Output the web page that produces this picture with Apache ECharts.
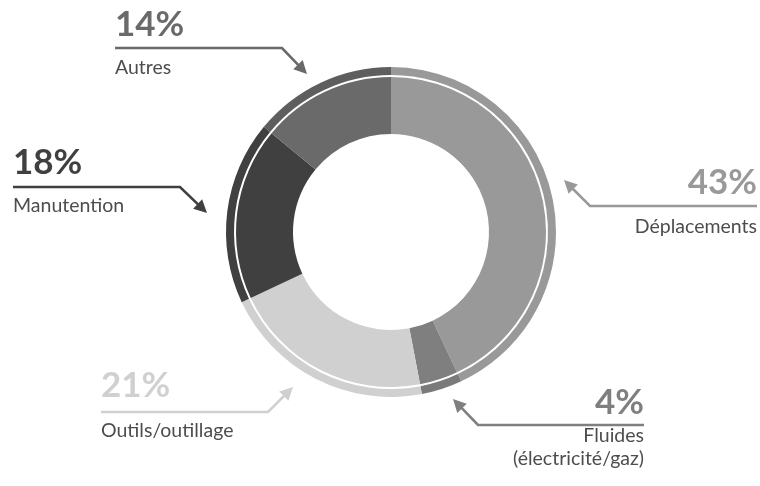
<!DOCTYPE html>
<html>
<head>
<meta charset="utf-8">
<script src="https://cdn.jsdelivr.net/npm/echarts@6/dist/echarts.min.js"></script>
<style>
html,body{margin:0;padding:0;background:#fff;}
#c{width:760px;height:486px;}
</style>
</head>
<body>
<div id="c"></div>
<script>
// ---- data ----
var categories = ['Déplacements', 'Fluides\n(électricité/gaz)', 'Outils/outillage', 'Manutention', 'Autres'];
var shares = [43, 4, 21, 18, 14];
var colors = ['#999999', '#7f7f7f', '#d0d0d0', '#404040', '#6a6a6a'];
var ringColors = ['#999999', '#7a7a7a', '#d0d0d0', '#404040', '#5e5e5e'];

// ---- annotation layout (per category, same order) ----
var layout = [
  {align: 'right', tx: 757, py: 183, ly: 227, path: [[757,206],[590,206],[564,180]]},
  {align: 'right', tx: 644, py: 403, ly: 447, path: [[644,425],[478,425],[453,399]]},
  {align: 'left',  tx: 101, py: 386, ly: 431, path: [[101,412],[268,412],[293,387]]},
  {align: 'left',  tx: 13,  py: 163, ly: 206, path: [[13,187],[180,187],[207,213]]},
  {align: 'left',  tx: 115, py: 25,  ly: 68,  path: [[115,48],[282,48],[307,74]]}
];

var chart = echarts.init(document.getElementById('c'), null, {renderer: 'canvas'});

var graphics = [];
var FONT = 'Lato, "Open Sans", sans-serif';
for (var i = 0; i < categories.length; i++) {
  var L = layout[i];
  var col = colors[i];
  graphics.push({
    type: 'text',
    x: L.tx, y: L.py,
    style: {text: shares[i] + '%', fill: col, font: 'bold 35px ' + FONT, align: L.align, verticalAlign: 'middle'}
  });
  graphics.push({
    type: 'text',
    x: L.tx, y: L.ly,
    style: {text: categories[i], fill: '#4d4d4d', font: '19.5px ' + FONT, align: L.align, verticalAlign: 'middle', lineHeight: 23}
  });
  var p = L.path;
  var a = p[1], t = p[2];
  var dx = t[0] - a[0], dy = t[1] - a[1];
  var len = Math.sqrt(dx*dx + dy*dy);
  var ux = dx/len, uy = dy/len;
  var head = 13, half = 6.5;
  var bx = t[0] - ux*head, by = t[1] - uy*head;
  graphics.push({
    type: 'polyline',
    shape: {points: [p[0], p[1], [bx + ux*2, by + uy*2]]},
    style: {stroke: col, lineWidth: 2.6, fill: null, lineJoin: 'miter'}
  });
  graphics.push({
    type: 'polygon',
    shape: {points: [[t[0], t[1]], [bx - uy*half, by + ux*half], [bx + uy*half, by - ux*half]]},
    style: {fill: col}
  });
}

function pieData(cols) {
  return categories.map(function (c, i) {
    return {name: c, value: shares[i], itemStyle: {color: cols[i]}};
  });
}

chart.setOption({
  animation: false,
  series: [
    {
      type: 'pie', center: [391, 232], radius: [98, 155],
      startAngle: 90, clockwise: true, silent: true,
      label: {show: false}, labelLine: {show: false},
      itemStyle: {borderWidth: 0},
      data: pieData(colors)
    },
    {
      type: 'pie', center: [391, 232], radius: [157, 165],
      startAngle: 90, clockwise: true, silent: true,
      label: {show: false}, labelLine: {show: false},
      itemStyle: {borderWidth: 0},
      data: pieData(ringColors)
    }
  ],
  graphic: graphics
});
</script>
</body>
</html>
